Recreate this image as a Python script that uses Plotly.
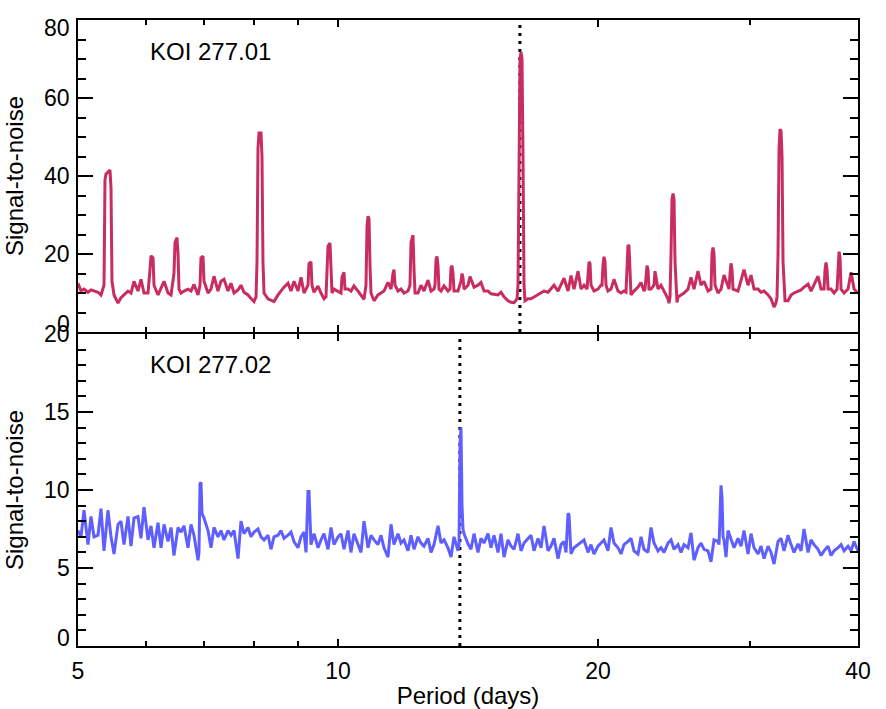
import math
import plotly.graph_objects as go
from plotly.subplots import make_subplots

# ---------------- data ----------------
# KOI 277.01 periodogram: background samples
koi01_base_period = [
    5.000, 5.040, 5.081, 5.135, 5.176, 5.218, 5.274, 5.316, 5.504, 5.563,
    5.607, 5.652, 5.713, 5.759, 5.805, 5.867, 5.914, 5.962, 6.026, 6.189,
    6.239, 6.289, 6.356, 6.407, 6.580, 6.633, 6.704, 6.758, 6.812, 6.885,
    7.071, 7.128, 7.185, 7.262, 7.320, 7.379, 7.458, 7.518, 7.579, 7.660,
    7.721, 7.783, 7.867, 7.930, 7.994, 8.298, 8.364, 8.431, 8.522, 8.590,
    8.659, 8.752, 8.822, 8.893, 8.989, 9.061, 9.134, 9.231, 9.380, 9.481,
    9.557, 9.634, 9.894, 10.000, 10.080, 10.270, 10.352, 10.435, 10.548, 10.633,
    10.718, 11.008, 11.125, 11.214, 11.304, 11.426, 11.518, 11.735, 11.829, 11.924,
    12.052, 12.377, 12.476, 12.576, 12.712, 12.814, 12.917, 13.160, 13.266, 13.408,
    13.770, 13.992, 14.142, 14.370, 14.524, 14.641, 14.758, 14.917, 15.037, 15.158,
    15.320, 15.443, 15.567, 15.734, 15.860, 15.988, 16.596, 16.729, 16.863, 17.044,
    17.181, 17.319, 17.505, 17.646, 17.787, 17.978, 18.122, 18.268, 18.464, 18.612,
    18.762, 18.963, 19.115, 19.269, 19.789, 20.000, 20.161, 20.540, 20.705, 20.871,
    21.095, 21.264, 21.435, 21.839, 22.014, 22.251, 22.430, 22.609, 23.035, 23.470,
    23.658, 23.848, 24.104, 24.755, 24.954, 25.154, 25.424, 25.628, 25.834, 26.111,
    26.321, 26.532, 26.817, 27.542, 27.763, 27.985, 28.286, 29.050, 29.283, 29.518,
    29.835, 30.075, 30.316, 30.642, 30.888, 31.136, 31.470, 31.723, 31.977, 33.194,
    33.460, 33.729, 34.091, 34.365, 34.640, 35.012, 35.293, 35.577, 35.958, 36.247,
    37.226, 37.525, 38.539, 38.953, 39.266, 39.580, 40.000,
]
koi01_base_snr = [
    12.5, 10.5, 11, 10.2, 10.8, 10.5, 10.2, 9.5, 9.5, 7.4,
    8.8, 9.5, 10.5, 10, 13, 10.5, 13.5, 10, 10, 9.5,
    11.5, 13, 10, 9.5, 10, 10.5, 11, 10.5, 12.2, 9.5,
    10, 11, 14.3, 10.5, 13, 13.5, 10.5, 12.5, 10, 10.8,
    12, 10.2, 9.5, 8.6, 7.8, 8.5, 8.2, 7.8, 9.5, 10.5,
    11.5, 12.5, 10.5, 13, 10.5, 14, 10, 12, 10.2, 11.8,
    10, 8.5, 11, 10.5, 10, 11, 10.5, 11.8, 10.5, 9.5,
    8.4, 8, 9.5, 10, 10.5, 12.7, 11, 10.5, 11, 10,
    10.5, 10, 12, 10.5, 13.3, 10.5, 11, 10.5, 11.8, 10.5,
    10.5, 11, 12, 11.5, 12, 12.7, 10.5, 10.5, 9.8, 9.6,
    9.5, 10.2, 9, 8, 7.6, 7.5, 8.5, 8.5, 9, 9.5,
    10, 10.5, 10.2, 11, 12, 10.5, 12, 13.8, 10.5, 14.5,
    11, 15.6, 11, 12, 10.5, 11, 12, 10.5, 11, 13.5,
    10.5, 10, 10.5, 9.5, 10.5, 11.5, 12.7, 10.5, 11, 11,
    12, 10.5, 8.5, 9, 9.5, 10, 11, 14, 11, 15.6,
    12, 13, 10.5, 10, 11, 14.6, 11.5, 10.5, 13, 16,
    12, 14.6, 11, 11, 10.2, 10.5, 9.5, 8.5, 6.4, 8,
    9.5, 10, 10.5, 10.8, 11.5, 12.3, 10.5, 12, 14.3, 11,
    11, 10, 10, 11, 15.3, 11, 10,
]
# KOI 277.01 periodogram: samples across the alias peaks
koi01_peak_period = [
    5.359, 5.373, 5.388, 5.416, 5.445, 5.460, 5.474,
    6.058, 6.074, 6.107, 6.123,
    6.458, 6.476, 6.510, 6.528, 6.545,
    6.922, 6.940, 6.977, 6.996,
    8.037, 8.058, 8.079, 8.101, 8.144, 8.166, 8.187, 8.210,
    9.256, 9.305, 9.330,
    9.685, 9.711, 9.737, 9.789, 9.815, 9.841,
    10.107, 10.161, 10.188,
    10.775, 10.804, 10.833, 10.862, 10.891, 10.920,
    11.579, 11.610, 11.641,
    12.116, 12.149, 12.214, 12.247, 12.279,
    12.951, 12.986, 13.020, 13.055, 13.090,
    13.480, 13.516, 13.552, 13.588, 13.624,
    13.881, 13.918, 13.955,
    14.218, 14.256,
    16.116, 16.159, 16.202, 16.245, 16.289, 16.332, 16.376, 16.420, 16.463,
    19.423, 19.475, 19.527, 19.579, 19.631,
    20.214, 20.268, 20.322, 20.377, 20.431,
    21.550, 21.607, 21.665, 21.723, 21.781,
    22.670, 22.731, 22.792, 22.852, 22.913,
    23.220, 23.282, 23.344,
    24.168, 24.233, 24.298, 24.362, 24.428, 24.493, 24.559, 24.624, 24.690,
    27.032, 27.104, 27.176, 27.249, 27.322,
    28.361, 28.437, 28.513, 28.589, 28.666,
    32.148, 32.234, 32.320, 32.406, 32.493, 32.580, 32.666, 32.754, 32.841, 32.929,
    36.537, 36.635, 36.733, 36.831, 36.930,
    37.827, 37.928, 38.029, 38.131, 38.232,
]
koi01_peak_snr = [
    12, 39, 40.5, 41, 41.5, 37, 13,
    16, 19.5, 19, 12,
    15, 23, 24.2, 20, 11,
    12, 19, 19.5, 13,
    9, 18, 47, 51, 51, 45, 18, 10,
    17.5, 18, 12,
    9, 14, 22, 22.8, 14, 10,
    14, 15.3, 11,
    12, 27, 29.7, 29, 17, 10,
    15, 16, 12,
    12, 23, 24.8, 16, 10,
    12, 18.5, 19.4, 17, 11,
    11, 16.5, 17, 15, 10.5,
    13, 15, 14,
    14.2, 13.5,
    8.5, 12, 45, 70, 71.8, 70, 45, 12, 8,
    11, 15, 18, 17.5, 12,
    12, 17, 19.3, 18, 12,
    10.2, 15, 22.3, 22, 14,
    11, 15, 17, 16, 11,
    12, 15.6, 14,
    7.4, 9, 20, 34, 35.5, 34, 18, 10, 7.6,
    11, 20, 21.7, 20, 12,
    11, 15, 17.6, 16, 11,
    7.5, 9, 20, 47, 52, 51.5, 45, 18, 10, 8,
    11, 16, 17.8, 16, 11,
    11, 18, 20.6, 19, 11,
]

# KOI 277.02 periodogram
koi02_period = [
    5.000, 5.040, 5.081, 5.135, 5.176, 5.218, 5.274, 5.316, 5.359, 5.416,
    5.460, 5.504, 5.563, 5.607, 5.652, 5.713, 5.759, 5.805, 5.867, 5.914,
    5.962, 6.026, 6.074, 6.123, 6.189, 6.239, 6.289, 6.356, 6.407, 6.458,
    6.528, 6.580, 6.633, 6.704, 6.758, 6.812, 6.885, 6.903, 6.922, 6.940,
    6.959, 6.996, 7.071, 7.128, 7.185, 7.262, 7.320, 7.379, 7.458, 7.518,
    7.579, 7.660, 7.721, 7.783, 7.867, 7.930, 7.994, 8.079, 8.144, 8.210,
    8.298, 8.364, 8.431, 8.522, 8.590, 8.659, 8.752, 8.822, 8.893, 8.989,
    9.061, 9.134, 9.183, 9.207, 9.231, 9.256, 9.280, 9.305, 9.380, 9.481,
    9.557, 9.634, 9.737, 9.815, 9.894, 10.000, 10.080, 10.161, 10.270, 10.352,
    10.435, 10.548, 10.633, 10.718, 10.833, 10.920, 11.008, 11.125, 11.214, 11.304,
    11.426, 11.518, 11.610, 11.735, 11.829, 11.924, 12.052, 12.149, 12.247, 12.377,
    12.476, 12.576, 12.712, 12.814, 12.917, 13.055, 13.160, 13.266, 13.408, 13.516,
    13.624, 13.770, 13.807, 13.844, 13.881, 13.918, 13.955, 13.992, 14.142, 14.256,
    14.370, 14.524, 14.641, 14.758, 14.917, 15.037, 15.158, 15.320, 15.443, 15.567,
    15.734, 15.860, 15.988, 16.159, 16.289, 16.420, 16.596, 16.729, 16.863, 17.044,
    17.181, 17.319, 17.505, 17.646, 17.787, 17.978, 18.122, 18.268, 18.365, 18.414,
    18.464, 18.513, 18.563, 18.612, 18.762, 18.963, 19.115, 19.269, 19.475, 19.631,
    19.789, 20.000, 20.161, 20.322, 20.540, 20.705, 20.871, 21.095, 21.264, 21.435,
    21.665, 21.839, 22.014, 22.251, 22.430, 22.609, 22.852, 23.035, 23.220, 23.470,
    23.658, 23.848, 24.104, 24.298, 24.493, 24.755, 24.954, 25.154, 25.424, 25.628,
    25.834, 26.111, 26.321, 26.532, 26.817, 27.032, 27.249, 27.542, 27.616, 27.689,
    27.763, 27.837, 27.911, 27.985, 28.136, 28.286, 28.513, 28.742, 29.050, 29.283,
    29.518, 29.835, 30.075, 30.316, 30.642, 30.888, 31.136, 31.470, 31.723, 31.977,
    32.320, 32.580, 32.841, 33.194, 33.460, 33.729, 34.091, 34.365, 34.640, 35.012,
    35.293, 35.577, 35.958, 36.247, 36.537, 36.930, 37.226, 37.525, 37.928, 38.232,
    38.539, 38.953, 39.266, 39.580, 40.000,
]
koi02_snr = [
    7.4, 7.0, 8.7, 6.5, 8.3, 7.0, 7.1, 8.8, 6.1, 8.7,
    7.0, 5.9, 7.8, 8.0, 6.5, 8.3, 6.4, 8.2, 8.3, 6.9,
    8.9, 6.8, 7.7, 6.3, 7.9, 6.3, 7.8, 6.7, 7.6, 5.8,
    7.6, 7.3, 7.7, 6.3, 7.8, 7.1, 5.5, 6.0, 10.4, 10.5,
    8.5, 8.2, 7.4, 6.3, 7.6, 7.0, 7.4, 6.8, 7.4, 7.1,
    7.4, 5.6, 8.0, 7.2, 7.6, 7.0, 7.3, 7.5, 7.0, 6.8,
    7.1, 6.2, 7.0, 7.1, 7.4, 6.9, 7.1, 7.3, 6.7, 6.3,
    7.0, 7.3, 6.0, 7.5, 9.9, 9.9, 7.5, 6.5, 7.2, 6.3,
    6.8, 7.2, 6.2, 7.6, 6.5, 7.0, 7.2, 6.2, 7.4, 6.0,
    7.2, 6.5, 6.0, 8.0, 6.3, 7.1, 6.8, 6.5, 7.1, 6.3,
    5.7, 7.8, 6.5, 7.2, 6.6, 6.8, 6.1, 7.1, 6.2, 7.0,
    6.6, 6.4, 6.9, 6.0, 6.5, 7.7, 6.6, 6.8, 6.3, 5.7,
    7.0, 6.1, 6.5, 13.0, 14.0, 9.0, 7.5, 7.2, 6.55, 6.2,
    7.2, 6.0, 6.9, 6.6, 7.2, 6.3, 7.1, 6.0, 7.2, 5.7,
    6.8, 6.4, 6.2, 7.2, 6.1, 6.6, 6.9, 7.1, 6.1, 6.9,
    6.3, 7.7, 6.1, 6.4, 6.9, 5.6, 6.5, 6.7, 6.0, 7.0,
    8.5, 8.4, 6.5, 5.9, 6.3, 6.5, 6.6, 6.8, 6.0, 6.5,
    5.9, 6.4, 6.6, 6.8, 6.1, 7.6, 6.6, 6.3, 5.9, 6.5,
    6.7, 6.9, 6.1, 5.9, 7.0, 6.2, 6.0, 7.6, 6.6, 6.1,
    6.3, 6.0, 6.6, 6.8, 6.2, 6.5, 6.0, 6.5, 6.3, 7.25,
    5.5, 6.3, 6.6, 6.2, 6.1, 5.4, 6.8, 6.7, 6.5, 9.0,
    10.3, 9.5, 7.0, 6.8, 5.7, 7.4, 6.8, 6.3, 6.9, 6.4,
    7.4, 5.9, 7.2, 6.3, 5.9, 6.4, 5.6, 6.4, 6.0, 5.25,
    6.7, 6.9, 6.1, 7.1, 6.5, 6.0, 6.55, 6.1, 7.5, 6.0,
    6.8, 6.5, 6.2, 5.8, 6.1, 6.4, 5.8, 6.1, 6.3, 6.5,
    6.1, 6.4, 6.1, 6.7, 6.1,
]

# transit periods marked by the dotted lines
koi01_transit_period = 16.24
koi02_transit_period = 13.84

# axis ticks
period_ticks = [5, 10, 20, 40]
period_tick_text = ["5", "10", "20", "40"]
period_minor_ticks = [6, 7, 8, 9, 30]
snr01_ticks = [0, 20, 40, 60, 80]
snr02_ticks = [0, 5, 10, 15, 20]

panel_labels = ["KOI 277.01", "KOI 277.02"]
y_title = "Signal-to-noise"
x_title = "Period (days)"

# ---------------- figure ----------------
TOP_COLOR = "#C92D60"
BOT_COLOR = "#5F5FFF"
FONT = "Liberation Sans, Arial, Helvetica, sans-serif"
PLOT_H = 626.0

top_pairs = sorted(zip(koi01_base_period + koi01_peak_period,
                       koi01_base_snr + koi01_peak_snr))
top_x = [p for p, _ in top_pairs]
top_y = [s for _, s in top_pairs]

fig = make_subplots(rows=2, cols=1, vertical_spacing=0)

dot_line = dict(color="black", width=3, dash="3px,5px")
fig.add_trace(go.Scatter(x=[koi01_transit_period] * 2, y=[snr01_ticks[0], snr01_ticks[-1]],
                         mode="lines", line=dot_line, showlegend=False, hoverinfo="skip"),
              row=1, col=1)
fig.add_trace(go.Scatter(x=[koi02_transit_period] * 2, y=[snr02_ticks[0], snr02_ticks[-1]],
                         mode="lines", line=dot_line, showlegend=False, hoverinfo="skip"),
              row=2, col=1)

fig.add_trace(go.Scatter(x=top_x, y=top_y, mode="lines",
                         line=dict(color=TOP_COLOR, width=3), showlegend=False),
              row=1, col=1)
fig.add_trace(go.Scatter(x=koi02_period, y=koi02_snr, mode="lines",
                         line=dict(color=BOT_COLOR, width=3), showlegend=False),
              row=2, col=1)

axis_common = dict(showline=True, linewidth=2, linecolor="black", mirror="ticks",
                   ticks="inside", tickcolor="black", tickwidth=2,
                   showgrid=False, zeroline=False, automargin=False,
                   tickfont=dict(family=FONT, size=23, color="black"))

fig.update_xaxes(type="log", range=[math.log10(5), math.log10(40)],
                 tickvals=period_ticks, ticktext=period_tick_text, ticklen=7,
                 minor=dict(tickvals=period_minor_ticks, ticklen=5, ticks="inside",
                            tickcolor="black", tickwidth=2),
                 **axis_common)
fig.update_xaxes(showticklabels=False, row=1, col=1)
fig.update_xaxes(ticklabelstandoff=3,
                 title=dict(text=x_title, font=dict(family=FONT, size=24, color="black"),
                            standoff=5), row=2, col=1)

# overlap the shared frame line of the two panels
fig.update_yaxes(domain=[0.5 + 1 / PLOT_H, 1.0], row=1, col=1)
fig.update_yaxes(domain=[0.0, 0.5 - 1 / PLOT_H], row=2, col=1)

fig.update_yaxes(range=[0, 80], tickvals=snr01_ticks, ticklen=15, showticklabels=False,
                 minor=dict(dtick=5, ticklen=8, ticks="inside", tickcolor="black", tickwidth=2),
                 title=dict(text=y_title, font=dict(family=FONT, size=24, color="black"), standoff=46),
                 row=1, col=1, **axis_common)
fig.update_yaxes(range=[0, 20], tickvals=snr02_ticks, ticklen=15, showticklabels=False,
                 minor=dict(dtick=1, ticklen=8, ticks="inside", tickcolor="black", tickwidth=2),
                 title=dict(text=y_title, font=dict(family=FONT, size=24, color="black"), standoff=46),
                 row=2, col=1, **axis_common)

# y tick labels (edge labels nudged inside the frame, as in the original)
for yref, ticks in (("y", snr01_ticks), ("y2", snr02_ticks)):
    for v in ticks:
        if v == ticks[-1] and yref == "y":
            shift = -8
        elif v == ticks[0]:
            shift = 8
        else:
            shift = 0
        fig.add_annotation(text=str(v), xref=yref.replace("y", "x") + " domain", x=0,
                           yref=yref, y=v, xanchor="right", yanchor="middle",
                           xshift=-6, yshift=shift, showarrow=False,
                           font=dict(family=FONT, size=23, color="black"))

fig.add_annotation(text=panel_labels[0], xref="x domain", yref="y domain", x=0.0897, y=0.898,
                   xanchor="left", yanchor="middle", showarrow=False,
                   font=dict(family=FONT, size=24, color="black"))
fig.add_annotation(text=panel_labels[1], xref="x2 domain", yref="y2 domain", x=0.0897, y=0.901,
                   xanchor="left", yanchor="middle", showarrow=False,
                   font=dict(family=FONT, size=24, color="black"))

fig.update_layout(width=886, height=709, margin=dict(l=78, r=28, t=20, b=63, autoexpand=False),
                  paper_bgcolor="white", plot_bgcolor="white",
                  font=dict(family=FONT, size=23, color="black"))

fig.write_html("out.html")
